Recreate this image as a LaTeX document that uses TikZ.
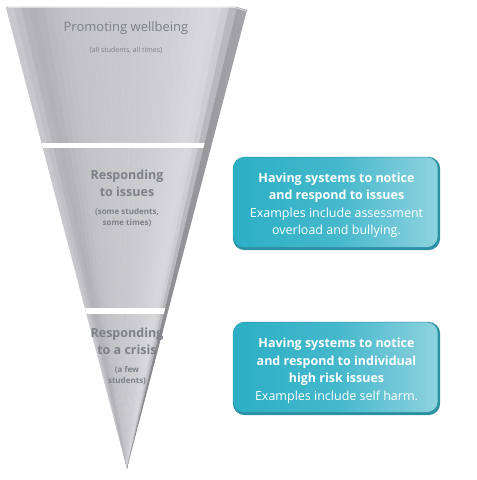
\documentclass[tikz,border=0pt]{standalone}
\usepackage{fontspec}
\setmainfont{Open Sans}
\usetikzlibrary{backgrounds}
\definecolor{conetext}{RGB}{125,128,136}
\definecolor{boxedge}{RGB}{44,145,163}
\definecolor{boxleft}{RGB}{44,175,197}
\definecolor{boxright}{RGB}{142,210,223}
\definecolor{bevelin}{RGB}{130,130,135}
\definecolor{bevelout}{RGB}{165,165,170}
\tikzset{
  conelabel/.style={text=conetext, align=center, inner sep=0pt},
  boxshape/.style={inner sep=0pt, minimum width=207bp, minimum height=93bp},
  boxtext/.style={text=white, align=center, inner sep=0pt, font=\fontsize{12.5bp}{17.5bp}\selectfont},
}
\begin{document}
\begin{tikzpicture}[x=1bp,y=-1bp]
\useasboundingbox (0,0) rectangle (477,480);
% cone built from fan strips
\coordinate (apex) at (127,468);
\foreach \i/\v in {0/200,1/192,2/182,3/178,4/181,5/186,6/190,7/193,8/195,9/196,10/197,11/198,12/199,13/200,14/200,15/201,16/202,17/203,18/204,19/205,20/206,21/207,22/209,23/211,24/213,25/215,26/216,27/214,28/205,29/185}{
  \pgfmathsetmacro{\xa}{6+\i*231/30}
  \pgfmathsetmacro{\xb}{6+(\i+1)*231/30}
  \pgfmathtruncatemacro{\bb}{min(255,\v+4)}
  \definecolor{stripc}{RGB}{\v,\v,\bb}
  \fill[stripc, draw=stripc, line width=0.4bp] (apex) -- (\xa,7) -- (\xb,7) -- cycle;
}
% right bevel facet
\shade[left color=bevelin, right color=bevelout] (237,7) -- (247,10) -- (apex) -- cycle;
\draw[white, line width=1bp, opacity=0.5] (8,8) -- (236,8);
\draw[white, line width=1bp, opacity=0.5] (237,8) -- (246,11);
% white separators (on the face only)
\begin{scope}
\clip (6,7) -- (237,7) -- (apex) -- cycle;
\fill[white] (0,143) rectangle (245,148.5);
\fill[white] (0,308) rectangle (245,313.5);
\end{scope}
% cone labels
\node[conelabel, font=\fontsize{13bp}{15bp}\selectfont] (t1) at (126,28) {Promoting wellbeing};
\node[conelabel, font=\fontsize{7bp}{9bp}\selectfont] (s1) at (126,50) {(all students, all times)};
\node[conelabel, font=\bfseries\fontsize{12.5bp}{17bp}\selectfont] (t2) at (127,183.5) {Responding\\to issues};
\node[conelabel, font=\bfseries\fontsize{8bp}{11bp}\selectfont] (s2) at (127,217.5) {(some students,\\some times)};
\node[conelabel, font=\bfseries\fontsize{12.5bp}{17bp}\selectfont] (t3) at (127,341) {Responding\\to a crisis};
\node[conelabel, font=\bfseries\fontsize{8bp}{11bp}\selectfont] (s3) at (127,375.5) {(a few\\students)};
% boxes
\node[boxshape] (b1) at (336.5,203.5) {};
\node[boxshape] (b2) at (336.5,368.5) {};
\node[boxtext] (b1t) at ([shift={(0,2)}]b1.center) {\textbf{Having systems to notice}\\\textbf{and respond to issues}\\Examples include assessment\\overload and bullying.};
\node[boxtext] (b2t) at ([shift={(0,2)}]b2.center) {\textbf{Having systems to notice}\\\textbf{and respond to individual}\\\textbf{high risk issues}\\Examples include self harm.};
\begin{scope}[on background layer]
\foreach \b in {b1,b2}{
  \fill[boxedge, rounded corners=12bp] (\b.north west) rectangle (\b.south east);
  \shade[left color=boxleft, right color=boxright, middle color=boxleft!75!boxright, rounded corners=11bp]
    ([shift={(0.5,0.5)}]\b.north west) rectangle ([shift={(-2.5,-3)}]\b.south east);
}
\end{scope}
\end{tikzpicture}
\end{document}
